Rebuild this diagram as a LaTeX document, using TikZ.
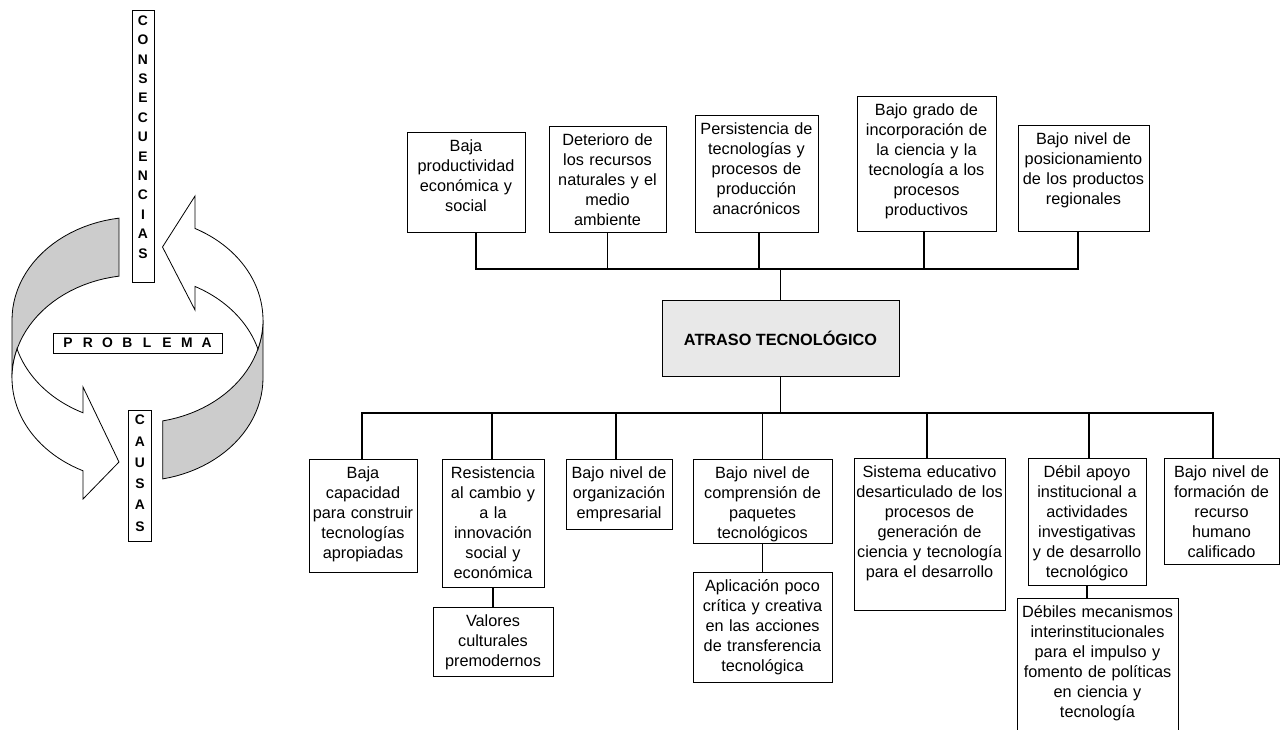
\documentclass[tikz,border=0pt]{standalone}
\usepackage{fontspec}
\setmainfont{Liberation Sans}
\usetikzlibrary{calc}

\definecolor{bandgray}{gray}{0.8}
\definecolor{coregray}{gray}{0.91}

% ring of the cycle (pixel units)
\newcommand{\ringx}{137.5}
\newcommand{\ringa}{125.5}
\newcommand{\ringb}{103}
\newcommand{\ringtop}{320}
\newcommand{\ringbot}{378}

\begin{document}
\begin{tikzpicture}[x=0.75pt, y=-0.75pt,
    cbox/.style={draw, line width=0.75pt, fill=white, anchor=north, text width=#1,
      align=center, inner xsep=0pt, inner ysep=0pt, text height=14pt,
      font=\fontsize{12.2}{15}\selectfont},
    link/.style={line width=1pt},
    letter/.style={inner sep=0pt, font=\fontsize{10.4}{11}\selectfont\bfseries},
    tagbox/.style={draw, line width=0.75pt, fill=white, inner sep=0pt},
    band/.style={draw, line width=0.6pt, fill=bandgray},
    sweep/.style={draw, line width=0.6pt, fill=white}]

  \useasboundingbox (0,0) rectangle (1281,729);
  \clip (0,0) rectangle (1281,729);

  % cycle on the left
  \path[band] plot[domain=98.5:180, variable=\t] ({\ringx+\ringa*cos(\t)},{\ringtop-\ringb*sin(\t)})
    -- plot[domain=180:98.5, variable=\t] ({\ringx+\ringa*cos(\t)},{\ringbot-\ringb*sin(\t)}) -- cycle;
  \path[band] plot[domain=281.6:360, variable=\t] ({\ringx+\ringa*cos(\t)},{\ringbot-\ringb*sin(\t)})
    -- plot[domain=360:281.6, variable=\t] ({\ringx+\ringa*cos(\t)},{\ringtop-\ringb*sin(\t)}) -- cycle;
  \path[sweep] plot[domain=196.35:244.3, variable=\t] ({\ringx+\ringa*cos(\t)},{\ringtop-\ringb*sin(\t)})
    -- (83,387) -- (119,462) -- (83,499)
    -- plot[domain=244.3:180, variable=\t] ({\ringx+\ringa*cos(\t)},{\ringbot-\ringb*sin(\t)})
    -- plot[domain=180:163.65, variable=\t] ({\ringx+\ringa*cos(\t)},{\ringbot-\ringb*sin(\t)}) -- cycle;
  \path[sweep] plot[domain=16.35:62.7, variable=\t] ({\ringx+\ringa*cos(\t)},{\ringbot-\ringb*sin(\t)})
    -- (195,310) -- (162.5,247) -- (195,196)
    -- plot[domain=62.7:0, variable=\t] ({\ringx+\ringa*cos(\t)},{\ringtop-\ringb*sin(\t)})
    -- plot[domain=360:343.65, variable=\t] ({\ringx+\ringa*cos(\t)},{\ringtop-\ringb*sin(\t)}) -- cycle;

  \node[tagbox, minimum width=16.5pt, minimum height=204pt] (tagcons) at (143,146) {};
  \foreach \l [count=\i from 0] in {C,O,N,S,E,C,U,E,N,C,I,A,S}
    \node[letter] (cons\i) at (143,20.5+19.4*\i) {\l};
  \node[tagbox, minimum width=126.75pt, minimum height=15pt] (tagprob) at (137.5,343) {};
  \foreach \l [count=\i from 0] in {P,R,O,B,L,E,M,A}
    \node[letter] (prob\i) at (68+19.8*\i,343) {\l};
  \node[tagbox, minimum width=17.25pt, minimum height=98.25pt] (tagcaus) at (139.5,475.5) {};
  \foreach \l [count=\i from 0] in {C,A,U,S,A,S}
    \node[letter] (caus\i) at (140,420+21.3*\i) {\l};

  % consecuencias
  \node[cbox=88.5pt, text depth=61pt] (efecto1) at (466,132) {Baja\\productividad\\económica y\\social};
  \node[cbox=87.75pt, text depth=65.5pt] (efecto2) at (607.5,126) {Deterioro de\\los recursos\\naturales y el\\medio\\ambiente};
  \node[cbox=92.25pt, text depth=73.75pt] (efecto3) at (756.5,115) {Persistencia de\\tecnologías y\\procesos de\\producción\\anacrónicos};
  \node[cbox=104.25pt, text depth=87.25pt] (efecto4) at (926.5,96) {Bajo grado de\\incorporación de\\la ciencia y la\\tecnología a los\\procesos\\productivos};
  \node[cbox=98.25pt, text depth=65.5pt] (efecto5) at (1083.5,125) {Bajo nivel de\\posicionamiento\\de los productos\\regionales};

  % problema central
  \node[draw, line width=0.75pt, fill=coregray, minimum width=177.75pt, minimum height=57pt,
    font=\fontsize{12.2}{15}\selectfont\bfseries] (core) at (780.5,338) {ATRASO TECNOLÓGICO};

  % causas
  \node[cbox=81pt, text depth=70.75pt] (causa1) at (363,459) {Baja\\capacidad\\para construir\\tecnologías\\apropiadas};
  \node[cbox=76.5pt, text depth=82pt] (causa2) at (493,459) {Resistencia\\al cambio y\\a la\\innovación\\social y\\económica};
  \node[cbox=79.5pt, text depth=38.5pt] (causa3) at (619,459) {Bajo nivel de\\organización\\empresarial};
  \node[cbox=104.25pt, text depth=49pt] (causa4) at (762.5,459) {Bajo nivel de\\comprensión de\\paquetes\\tecnológicos};
  \node[cbox=113.25pt, text depth=100pt] (causa5) at (929.5,458) {Sistema educativo\\desarticulado de los\\procesos de\\generación de\\ciencia y tecnología\\para el desarrollo};
  \node[cbox=88.5pt, text depth=81.25pt] (causa6) at (1087,458) {Débil apoyo\\institucional a\\actividades\\investigativas\\y de desarrollo\\tecnológico};
  \node[cbox=86.25pt, text depth=65.5pt] (causa7) at (1221.5,458) {Bajo nivel de\\formación de\\recurso\\humano\\calificado};
  \node[cbox=90pt, text depth=37.75pt] (causa2a) at (493,607) {Valores\\culturales\\premodernos};
  \node[cbox=104.25pt, text depth=68.5pt] (causa4a) at (762.5,572) {Aplicación poco\\crítica y creativa\\en las acciones\\de transferencia\\tecnológica};
  \node[cbox=120.75pt, text depth=96.25pt] (causa6a) at (1097.5,598) {Débiles mecanismos\\interinstitucionales\\para el impulso y\\fomento de políticas\\en ciencia y\\tecnología};

  % conectores
  \coordinate (topbus) at (780.5,269);
  \coordinate (botbus) at (780.5,413);
  \foreach \n/\dx in {1/10,2/0,3/2.5,4/-2.5,5/-5.5}
    \draw[link] ([xshift=\dx*0.75pt]efecto\n.south) |- (topbus);
  \draw[link] (topbus) -- (core.north);
  \draw[link] (core.south) -- (botbus);
  \foreach \n/\dx in {1/-1,2/-1,3/-3,4/0,5/-2.5,6/2,7/-8.5}
    \draw[link] (botbus) -| ([xshift=\dx*0.75pt]causa\n.north);
  \draw[link] (causa2.south) -- (causa2a.north);
  \draw[link] (causa4.south) -- (causa4a.north);
  \draw[link] (causa6.south) -- (causa6.south |- causa6a.north);
\end{tikzpicture}
\end{document}
